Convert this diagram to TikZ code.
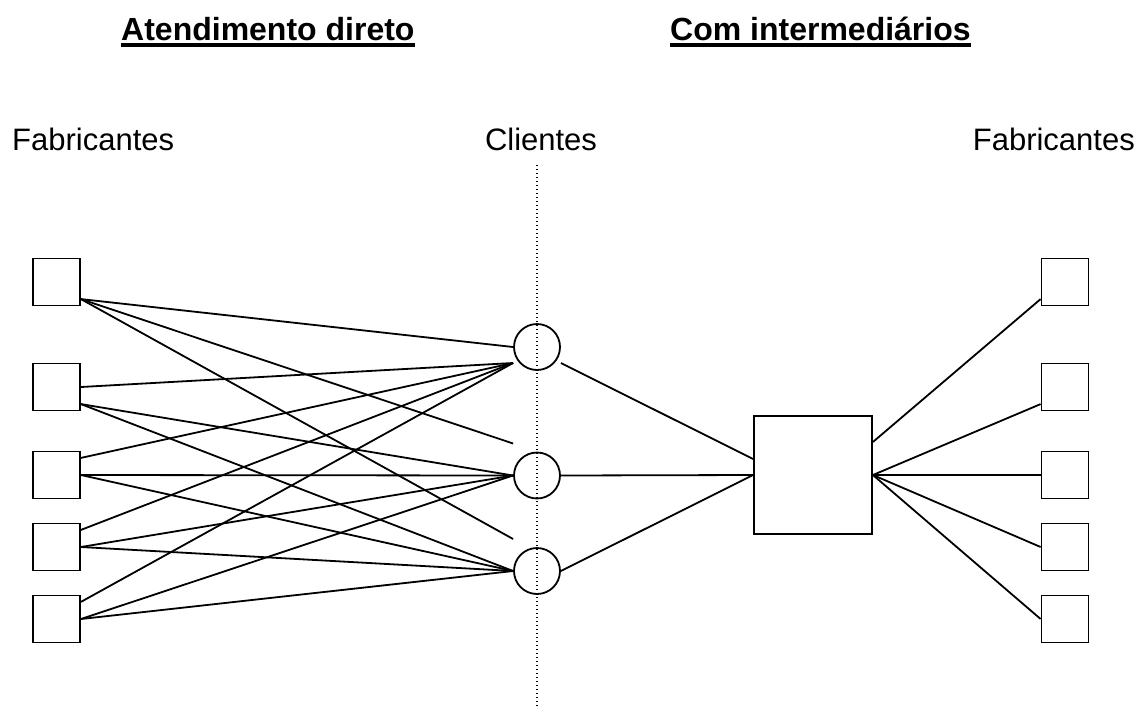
\documentclass[tikz,border=0pt]{standalone}
\usepackage{fontspec}
\setmainfont{Liberation Sans}
\usetikzlibrary{positioning,calc}

\begin{document}
\begin{tikzpicture}[
    x=1pt, y=-1pt,
    box/.style={draw, rectangle, minimum size=47pt, inner sep=0pt, line width=1.8pt},
    client/.style={draw, circle, minimum size=46pt, inner sep=0pt, line width=1.8pt},
    hub/.style={draw, rectangle, minimum size=118pt, inner sep=0pt, line width=1.8pt},
    link/.style={line width=1.8pt},
    label/.style={font=\fontsize{31}{37}\selectfont, inner sep=0pt},
    heading/.style={font=\fontsize{32}{38}\selectfont\bfseries, inner sep=0pt}
]
    \useasboundingbox (0,0) rectangle (1141,710);

    % Headings
    \node[heading, anchor=base west] (direct) at (121,40) {Atendimento direto};
    \node[heading, anchor=base west] (indirect) at (670,40) {Com intermediários};
    \draw[line width=4pt] ($(direct.base west)+(0,5)$) -- ($(direct.base east)+(0,5)$);
    \draw[line width=4pt] ($(indirect.base west)+(0,5)$) -- ($(indirect.base east)+(0,5)$);

    \node[label, anchor=base west] (fabl) at (12,150) {Fabricantes};
    \node[label, anchor=base] (cli) at (541,150) {Clientes};
    \node[label, anchor=base east] (fabr) at (1135,150) {Fabricantes};

    % Divider
    \draw[line width=1.3pt, dash pattern=on 1.3pt off 2.7pt] (537,165) -- (537,708);

    % Nodes
    \node[box] (fab1) at (56.5,282) {};
    \node[box] (fab2) at (56.5,387) {};
    \node[box] (fab3) at (56.5,475) {};
    \node[box] (fab4) at (56.5,547) {};
    \node[box] (fab5) at (56.5,619) {};

    \node[client] (cli1) at (537,347) {};
    \node[client] (cli2) at (537,475.5) {};
    \node[client] (cli3) at (537,571) {};

    \node[hub] (inter) at (813,475) {};

    \node[box] (fabr1) at (1065,282) {};
    \node[box] (fabr2) at (1065,387) {};
    \node[box] (fabr3) at (1065,475) {};
    \node[box] (fabr4) at (1065,547) {};
    \node[box] (fabr5) at (1065,619) {};

    \coordinate (c1in) at ($(cli1.west)+(0,16)$);
    \coordinate (c1out) at ($(cli1.east)+(0,16)$);
    \coordinate (gap1) at ($(cli2.west)+(0,-32)$);
    \coordinate (gap2) at ($(cli3.west)+(0,-32)$);
    \coordinate (hubout) at ($(inter.east)+(0,-33)$);

    % Direct links
    \draw[link] (fab1.-35) -- (cli1.west);
    \draw[link] (fab1.-35) -- (gap1);
    \draw[link] (fab1.-35) -- (gap2);

    \draw[link] (fab2.east) -- (c1in);
    \draw[link] (fab2.-35) -- (cli2.west);
    \draw[link] (fab2.-35) -- (cli3.west);

    \draw[link] (fab3.35) -- (c1in);
    \draw[link] (fab3.east) -- (cli2.west);
    \draw[link] (fab3.east) -- (cli3.west);

    \draw[link] (fab4.35) -- (c1in);
    \draw[link] (fab4.east) -- (cli2.west);
    \draw[link] (fab4.east) -- (cli3.west);

    \draw[link] (fab5.35) -- (c1in);
    \draw[link] (fab5.east) -- (cli2.west);
    \draw[link] (fab5.east) -- (cli3.west);

    % Links through the intermediary
    \draw[link] (c1out) -- ($(inter.west)+(0,-16)$);
    \draw[link] (cli2.east) -- (inter.west);
    \draw[link] (cli3.east) -- (inter.west);

    \draw[link] (hubout) -- (fabr1.-145);
    \draw[link] (inter.east) -- (fabr2.-145);
    \draw[link] (inter.east) -- (fabr3.west);
    \draw[link] (inter.east) -- (fabr4.west);
    \draw[link] (inter.east) -- (fabr5.west);

\end{tikzpicture}
\end{document}
